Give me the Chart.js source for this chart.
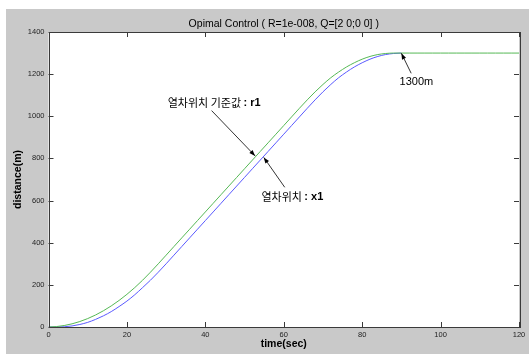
<!DOCTYPE html>
<html>
<head>
<meta charset="utf-8">
<script src="https://cdn.jsdelivr.net/npm/chart.js@4.4.1/dist/chart.umd.min.js"></script>
<style>
  html, body { margin: 0; padding: 0; background: #ffffff; width: 529px; height: 354px; overflow: hidden; }
  #frame { position: absolute; left: 6px; top: 9px; width: 523px; height: 345px; background: #c9c9c9; }
  canvas { display: block; }
</style>
</head>
<body>
<div id="frame"><canvas id="c" width="523" height="345"></canvas></div>
<script>
// ---- data ----
const timeSec = [0,2,4,6,8,10,12,14,16,18,20,22,24,26,28,30,32,34,36,38,40,42,44,46,48,50,52,54,56,58,60,62,64,66,68,70,72,74,76,78,80,82,84,86,88,90,92,94,96,98,100,102,104,106,108,110,112,114,116,118,120];
// reference position r1 (green)
const refPosition = [0,2,7,15,26,40,57,77,100,126,155,187,222,260,300,341,382,423,464,505,546,587,628,669,710,751,792,833,874,915,956,997,1038,1078,1116,1151,1183,1210,1234,1254,1271,1284,1293,1298,1300,1300,1300,1300,1300,1300,1300,1300,1300,1300,1300,1300,1300,1300,1300,1300,1300];
// train position x1 (blue), visible up to t = 90 s where it meets 1300 m
const trainPosition = [0,0,1,5,12,22,36,53,73,97,123,153,187,222,260,300,341,382,423,464,505,546,587,628,669,710,751,792,833,874,915,956,997,1038,1078,1116,1151,1183,1210,1234,1254,1271,1284,1293,1298,1300];
const xTickValues = [0,20,40,60,80,100,120];
const yTickValues = [0,200,400,600,800,1000,1200,1400];

const titleText = 'Opimal Control ( R=1e-008, Q=[2 0;0 0] )';
const xLabel = 'time(sec)';
const yLabel = 'distance(m)';

// annotations: text anchors and arrows in data coordinates
const notes = [
  { parts: [['열차위치 기준값 ', false], [': r1', true]], t: 30.4, v: 1062, from: [41.6, 1027], to: [52.7, 812] },
  { parts: [['열차위치 ', false], [': x1', true]], t: 54.3, v: 618, from: [60.25, 663], to: [54.9, 805] },
  { parts: [['1300m', false]], t: 89.55, v: 1161, from: [92.5, 1204], to: [90.0, 1299] }
];

const AR = "'Liberation Sans', Arial, sans-serif";
const KR = "'Noto Sans CJK KR', sans-serif";

const matlabPlugin = {
  id: 'matlab',
  beforeDraw(chart) {
    const { ctx, chartArea: a } = chart;
    ctx.save();
    ctx.fillStyle = '#ffffff';
    ctx.fillRect(a.left, a.top, a.right - a.left, a.bottom - a.top);
    ctx.restore();
  },
  afterDraw(chart) {
    const { ctx, chartArea: a, scales } = chart;
    const xs = scales.x, ys = scales.y;
    ctx.save();
    ctx.strokeStyle = '#3a3a3a';
    ctx.lineWidth = 1;
    ctx.strokeRect(Math.round(a.left) + 0.5, Math.round(a.top) + 0.5, Math.round(a.right - a.left), Math.round(a.bottom - a.top));
    const tl = 5;
    ctx.beginPath();
    xTickValues.forEach(v => {
      const px = Math.round(xs.getPixelForValue(v)) + 0.5;
      ctx.moveTo(px, a.bottom); ctx.lineTo(px, a.bottom - tl);
      ctx.moveTo(px, a.top); ctx.lineTo(px, a.top + tl);
    });
    yTickValues.forEach(v => {
      const py = Math.round(ys.getPixelForValue(v)) + 0.5;
      ctx.moveTo(a.left, py); ctx.lineTo(a.left + tl, py);
      ctx.moveTo(a.right, py); ctx.lineTo(a.right - tl, py);
    });
    ctx.stroke();

    ctx.fillStyle = '#000000';
    ctx.textAlign = 'center';
    ctx.textBaseline = 'middle';
    ctx.font = '10.5px ' + AR;
    ctx.fillText(titleText, (a.left + a.right) / 2, 15);
    ctx.font = 'bold 10.5px ' + AR;
    ctx.fillText(xLabel, (a.left + a.right) / 2, 335);
    ctx.save();
    ctx.translate(12, (a.top + a.bottom) / 2);
    ctx.rotate(-Math.PI / 2);
    ctx.fillText(yLabel, 0, 0);
    ctx.restore();

    notes.forEach(n => {
      let x = xs.getPixelForValue(n.t);
      const y = ys.getPixelForValue(n.v);
      ctx.textAlign = 'left';
      ctx.textBaseline = 'middle';
      n.parts.forEach(([txt, bold]) => {
        const isKr = /[\uAC00-\uD7A3]/.test(txt);
        ctx.font = (bold ? 'bold ' : '') + '11px ' + (isKr ? KR : AR);
        ctx.fillText(txt, x, y);
        x += ctx.measureText(txt).width;
      });
      const x0 = xs.getPixelForValue(n.from[0]), y0 = ys.getPixelForValue(n.from[1]);
      const x1 = xs.getPixelForValue(n.to[0]), y1 = ys.getPixelForValue(n.to[1]);
      ctx.strokeStyle = '#000000';
      ctx.lineWidth = 0.8;
      ctx.beginPath(); ctx.moveTo(x0, y0); ctx.lineTo(x1, y1); ctx.stroke();
      const ang = Math.atan2(y1 - y0, x1 - x0);
      const L = 6, W = 2.2;
      ctx.beginPath();
      ctx.moveTo(x1, y1);
      ctx.lineTo(x1 - L * Math.cos(ang) + W * Math.sin(ang), y1 - L * Math.sin(ang) - W * Math.cos(ang));
      ctx.lineTo(x1 - L * Math.cos(ang) - W * Math.sin(ang), y1 - L * Math.sin(ang) + W * Math.cos(ang));
      ctx.closePath();
      ctx.fillStyle = '#000000';
      ctx.fill();
    });
    ctx.restore();
  }
};

new Chart(document.getElementById('c'), {
  type: 'line',
  data: {
    datasets: [
      { label: 'r1', data: timeSec.map((t, i) => ({ x: t, y: refPosition[i] })), borderColor: '#55b855', borderWidth: 1, pointRadius: 0, cubicInterpolationMode: 'monotone', fill: false },
      { label: 'x1', data: trainPosition.map((v, i) => ({ x: timeSec[i], y: v })), borderColor: '#5a5aff', borderWidth: 1, pointRadius: 0, cubicInterpolationMode: 'monotone', fill: false }
    ]
  },
  options: {
    responsive: false,
    devicePixelRatio: 1,
    animation: false,
    layout: { padding: { top: 23, right: 10, left: 0, bottom: 0 } },
    plugins: { legend: { display: false }, tooltip: { enabled: false }, title: { display: false } },
    scales: {
      x: {
        type: 'linear', min: 0, max: 120,
        afterBuildTicks: s => { s.ticks = xTickValues.map(v => ({ value: v })); },
        afterFit: s => { s.height = 27; },
        grid: { display: false, drawTicks: false, tickLength: 0 },
        border: { display: false },
        ticks: { padding: 3, color: '#222222', font: { family: AR, size: 7.5 }, maxRotation: 0, autoSkip: false, callback: v => String(v) }
      },
      y: {
        min: 0, max: 1400,
        afterBuildTicks: s => { s.ticks = yTickValues.map(v => ({ value: v })); },
        afterFit: s => { s.width = 42.5; },
        grid: { display: false, drawTicks: false, tickLength: 0 },
        border: { display: false },
        ticks: { padding: 4, color: '#222222', font: { family: AR, size: 7.5 }, autoSkip: false, callback: v => String(v) }
      }
    }
  },
  plugins: [matlabPlugin]
});
</script>
</body>
</html>
